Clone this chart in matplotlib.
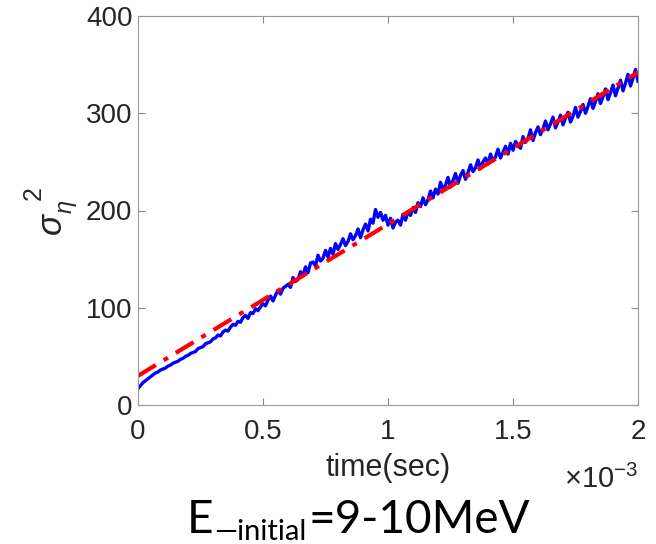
import numpy as np
import matplotlib as mpl
from matplotlib import pyplot as plt
from matplotlib.ticker import FuncFormatter

mpl.rcParams['font.family'] = ['Liberation Sans', 'DejaVu Sans']
mpl.rcParams['mathtext.fontset'] = 'custom'
mpl.rcParams['mathtext.rm'] = 'Liberation Sans'
mpl.rcParams['mathtext.it'] = 'Liberation Sans:italic'

# time axis of the measured variance (seconds), 0.01 ms steps
time_ms = np.arange(201) * 0.01
time_sec = time_ms * 1e-3

# sigma_eta^2
sigma2 = [17, 20, 23, 25, 27, 29, 31, 33, 34, 36,
          37, 38, 40, 41, 43, 44, 45, 47, 48, 50,
          51, 53, 54, 55, 58, 59, 60, 63, 64, 65,
          68, 69, 72, 71, 75, 77, 76, 80, 83, 82,
          86, 85, 90, 92, 89, 95, 94, 99, 97, 101,
          104, 102, 108, 112, 107, 113, 118, 114, 120, 122,
          124, 121, 131, 127, 129, 137, 133, 142, 136, 146,
          147, 143, 154, 148, 151, 159, 152, 161, 155, 166,
          160, 165, 171, 164, 168, 176, 170, 174, 181, 172,
          180, 186, 179, 191, 187, 201, 193, 198, 190, 195,
          185, 192, 182, 188, 190, 185, 196, 190, 199, 195,
          203, 198, 208, 204, 213, 206, 211, 220, 213, 222,
          217, 229, 222, 226, 234, 224, 231, 238, 228, 236,
          241, 232, 239, 247, 240, 244, 252, 243, 250, 254,
          248, 258, 251, 255, 263, 254, 260, 266, 258, 269,
          262, 271, 267, 264, 276, 270, 274, 283, 272, 280,
          286, 278, 284, 292, 283, 289, 296, 285, 291, 298,
          288, 295, 301, 291, 297, 306, 296, 302, 309, 300,
          307, 315, 305, 312, 320, 310, 317, 325, 314, 321,
          329, 318, 326, 334, 323, 331, 340, 328, 336, 345,
          333]

# linear fit (red dash-dot)
fit_t = [0, 2e-3]
fit_val = [30, 342]

xticks = [0, 0.5e-3, 1e-3, 1.5e-3, 2e-3]
yticks = [0, 100, 200, 300, 400]

W, H = 656, 544
fig = plt.figure(figsize=(W / 100, H / 100), dpi=100)
ax = fig.add_axes([138 / W, 1 - 405 / H, 500 / W, 389 / H])

ax.plot(time_sec, sigma2, color='#0000ff', linewidth=2.4)
ax.plot(fit_t, fit_val, color='#ff0000', linewidth=3.0, linestyle='-.', dashes=(5, 2.2, 1.2, 2.2))

ax.set_xlim(0, 2e-3)
ax.set_ylim(0, 400)
ax.set_xticks(xticks)
ax.set_yticks(yticks)
ax.xaxis.set_major_formatter(FuncFormatter(lambda v, p: '%g' % (v * 1e3)))
ax.tick_params(direction='in', top=True, right=True, length=5, width=0.8,
               color='#888888', labelsize=20, labelcolor='#262626')
ax.tick_params(axis='x', pad=10)
ax.tick_params(axis='y', pad=4)
for s in ax.spines.values():
    s.set_color('#999999')
    s.set_linewidth(0.8)

ax.set_xlabel('time(sec)', fontsize=22, color='#262626', labelpad=6)

# y label, rotated: sigma, eta subscript, then the 2 further up
lab = dict(color='#262626', rotation=90, ha='center', va='center')
fig.text(52 / W, 1 - 224 / H, r'$\sigma$', fontsize=25, **lab)
fig.text(68 / W, 1 - 207 / H, r'$\eta$', fontsize=17, **lab)
fig.text(34 / W, 1 - 193 / H, '2', fontsize=18, **lab)

# exponent of the time axis
fig.text(638 / W, 1 - 488 / H, r'$\times$10$^{-3}$', fontsize=21, color='#262626',
         ha='right', va='baseline')

# bottom caption in pieces so the subscript sits like the original
cap_font = ['Lato', 'DejaVu Sans']
t1 = fig.text(187 / W, 1 - 533 / H, 'E', fontsize=33, family=cap_font, va='baseline')
fig.canvas.draw()
r = fig.canvas.get_renderer()
x2 = t1.get_window_extent(r).x1 / W
t2 = fig.text(x2 + 1 / W, 1 - 540 / H, '\u2014initial', fontsize=21, family=cap_font,
              va='baseline')
x3 = t2.get_window_extent(r).x1 / W
fig.text(x3 + 2 / W, 1 - 533 / H, '=9-10MeV', fontsize=33, family=cap_font, va='baseline')

plt.savefig('out.png', dpi=100)
